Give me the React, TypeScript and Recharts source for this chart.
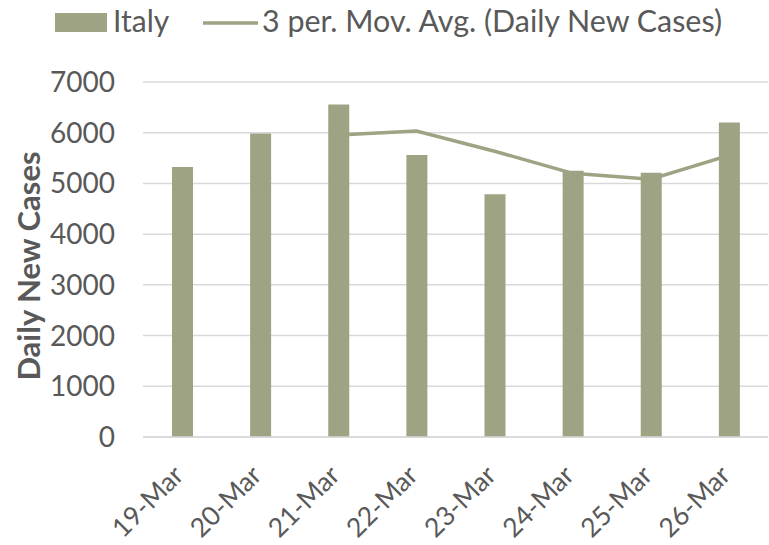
import React from 'react';
import {
    ComposedChart, Bar, Line, XAxis, YAxis,
    CartesianGrid, Legend, Label
} from 'recharts';

const categories = ['19-Mar', '20-Mar', '21-Mar', '22-Mar', '23-Mar', '24-Mar', '25-Mar', '26-Mar'];
const italyCases = [5322, 5986, 6557, 5560, 4789, 5249, 5210, 6203];
const movingAvg = [null, null, 5955, 6034, 5635, 5199, 5083, 5554];
const yTicks = [0, 1000, 2000, 3000, 4000, 5000, 6000, 7000];

const data = categories.map((date, i) => ({
    date,
    italy: italyCases[i],
    avg: movingAvg[i],
}));

const FONT = 'Lato, "Open Sans", sans-serif';
const TEXT = '#595959';
const OLIVE = '#9da383';

// rotated category label, anchored at the end of its baseline
const XTick = ({ x, y, payload }: any) => {
    const ax = x + 3;
    const ay = y + 40;
    return (
        <text
            x={ax}
            y={ay}
            transform={`rotate(-45, ${ax}, ${ay})`}
            textAnchor="end"
            fill={TEXT}
            fontSize={26.5}
            fontFamily={FONT}
        >
            {payload.value}
        </text>
    );
};

const LegendBox = () => (
    <svg width={769} height={50} style={{ display: 'block' }}>
        <rect x={55} y={13} width={52} height={19} fill={OLIVE} />
        <text x={113} y={32} fill={TEXT} fontSize={30} fontFamily={FONT}>Italy</text>
        <line x1={203} y1={23} x2={258} y2={23} stroke={OLIVE} strokeWidth={3.5} />
        <text x={262} y={32} fill={TEXT} fontSize={30} fontFamily={FONT} textLength={460} lengthAdjust="spacingAndGlyphs">
            3 per. Mov. Avg. (Daily New Cases)
        </text>
    </svg>
);

const YTitle = () => {
    const cy = 266;
    return (
        <text
            x={28}
            y={cy}
            transform={`rotate(-90, 28, ${cy})`}
            textAnchor="middle"
            dominantBaseline="central"
            fill={TEXT}
            fontSize={31}
            fontWeight="bold"
            fontFamily={FONT}
        >
            Daily New Cases
        </text>
    );
};

export default function App() {
    return (
        <div style={{ position: 'absolute', left: 0, top: 0, width: 769, height: 545, background: '#fff', fontFamily: FONT }}>
            <ComposedChart width={769} height={545} data={data} margin={{ top: 82, right: 1, left: 0, bottom: 0 }}>
                <CartesianGrid vertical={false} stroke="#d9d9d9" strokeWidth={1.5} />
                <XAxis
                    dataKey="date"
                    height={108}
                    axisLine={{ stroke: '#d9d9d9', strokeWidth: 1.5 }}
                    tickLine={false}
                    tickSize={0}
                    tickMargin={0}
                    interval={0}
                    tick={<XTick />}
                />
                <YAxis
                    width={143}
                    domain={[0, 7000]}
                    ticks={yTicks}
                    axisLine={false}
                    tickLine={false}
                    tickSize={0}
                    tickMargin={28}
                    tick={{ fill: TEXT, fontSize: 28, fontFamily: FONT }}
                >
                    <Label content={<YTitle />} />
                </YAxis>
                <Legend
                    verticalAlign="middle"
                    layout="horizontal"
                    wrapperStyle={{ top: 0, left: 0 }}
                    content={<LegendBox />}
                />
                <Bar dataKey="italy" name="Italy" fill={OLIVE} barSize={21} isAnimationActive={false} />
                <Line
                    dataKey="avg"
                    name="3 per. Mov. Avg. (Daily New Cases)"
                    type="linear"
                    stroke={OLIVE}
                    strokeWidth={3.5}
                    dot={false}
                    activeDot={false}
                    isAnimationActive={false}
                />
            </ComposedChart>
        </div>
    );
}
